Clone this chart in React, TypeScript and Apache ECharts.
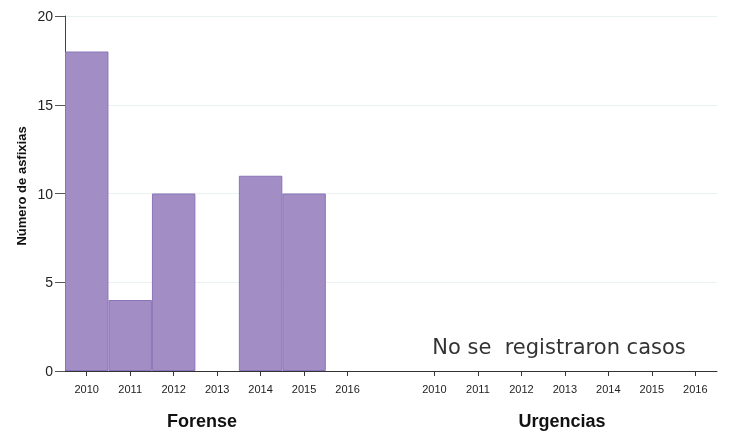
import React, { useEffect, useRef } from "react";
import * as echarts from "echarts";

const years = ["2010", "2011", "2012", "2013", "2014", "2015", "2016"];
const forense = [18, 4, 10, 0, 11, 10, 0];
const urgencias = [0, 0, 0, 0, 0, 0, 0];
const groupNames = ["Forense", "Urgencias"];
const yTicks = { min: 0, max: 20, interval: 5 };
const yName = "Número de asfixias";
const emptyNote = "No se  registraron casos";

export default function App() {
  const ref = useRef<HTMLDivElement>(null);
  useEffect(() => {
    if (!ref.current) return;
    const chart = echarts.init(ref.current, undefined, { renderer: "svg" });
    const cats = [
      ...years.map((y) => "F" + y),
      "",
      ...years.map((y) => "U" + y),
    ];
    const toVal = (v: number) => (v === 0 ? "-" : v);
    const data = [...forense.map(toVal), "-", ...urgencias.map(toVal)];
    const font = "Liberation Sans, Arial, sans-serif";
    chart.setOption({
      animation: false,
      grid: { left: 65, right: 14, top: 16, bottom: 61 },
      xAxis: {
        type: "category",
        data: cats,
        axisLine: { show: true, lineStyle: { color: "#333", width: 1 } },
        axisTick: {
          show: true,
          alignWithLabel: true,
          length: 5,
          lineStyle: { color: "#333", width: 1 },
          interval: (index: number) => index !== years.length,
        },
        axisLabel: {
          interval: 0,
          fontSize: 11,
          color: "#222",
          fontFamily: font,
          margin: 12,
          formatter: (v: string) => v.slice(1),
        },
        splitLine: { show: false },
      },
      yAxis: {
        type: "value",
        min: yTicks.min,
        max: yTicks.max,
        interval: yTicks.interval,
        axisLine: { show: true, lineStyle: { color: "#444", width: 1 } },
        axisTick: { show: true, inside: false, length: 10, lineStyle: { color: "#555", width: 1 } },
        axisLabel: {
          fontSize: 14,
          color: "#222",
          margin: 12,
          fontFamily: font,
        },
        splitLine: { lineStyle: { color: "#e9f1f1", width: 1 } },
      },
      series: [
        {
          type: "bar",
          data,
          barWidth: "100%",
          itemStyle: { color: "#a28ec4", borderColor: "#8a74b9", borderWidth: 1 },
        },
      ],
      graphic: [
        {
          type: "text",
          x: 21,
          y: 186,
          rotation: Math.PI / 2,
          style: {
            text: yName,
            fontSize: 13,
            fontWeight: "bold",
            fill: "#111",
            fontFamily: font,
            align: "center",
            verticalAlign: "middle",
          },
        },
        {
          type: "text",
          x: 202,
          y: 421,
          style: {
            text: groupNames[0],
            fontSize: 18,
            fontWeight: "bold",
            fill: "#111",
            fontFamily: font,
            align: "center",
            verticalAlign: "middle",
          },
        },
        {
          type: "text",
          x: 562,
          y: 421,
          style: {
            text: groupNames[1],
            fontSize: 18,
            fontWeight: "bold",
            fill: "#111",
            fontFamily: font,
            align: "center",
            verticalAlign: "middle",
          },
        },
        {
          type: "text",
          x: 559,
          y: 347,
          style: {
            text: emptyNote,
            fontSize: 21,
            fill: "#333",
            fontFamily: "DejaVu Sans, sans-serif",
            align: "center",
            verticalAlign: "middle",
          },
        },
      ],
    });
    return () => chart.dispose();
  }, []);
  return (
    <div
      ref={ref}
      style={{ position: "fixed", left: 0, top: 0, width: 731, height: 432 }}
    />
  );
}
